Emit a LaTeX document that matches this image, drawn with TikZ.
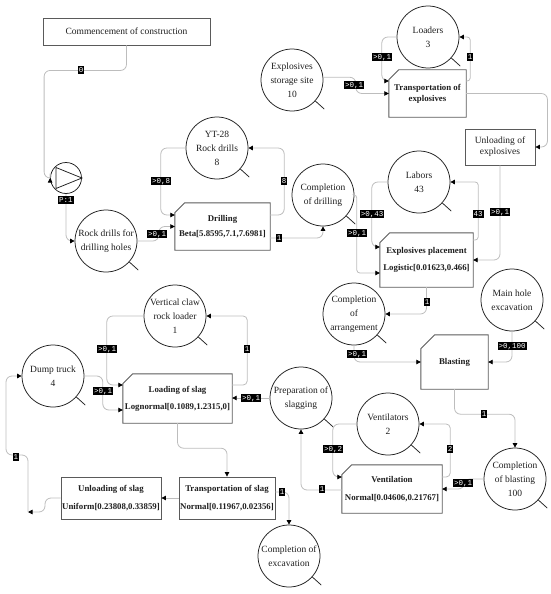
\documentclass[tikz,border=0pt]{standalone}
\usepackage{fontspec}
\setmainfont{Liberation Serif}
\setmonofont{Liberation Mono}
\usetikzlibrary{arrows.meta}
\definecolor{linegray}{HTML}{BDBDBD}
\definecolor{boxgray}{HTML}{5A5A5A}
\definecolor{inkgray}{HTML}{1E1E1E}
\newcommand\combioutline[2][10pt]{\draw[combiline] ([xshift=#1]#2.north west) -- (#2.north east) -- (#2.south east) -- (#2.south west) -- ([yshift=-#1]#2.north west) -- cycle;}
\tikzset{
  queue/.style={circle, draw=inkgray, line width=0.75pt, minimum size=62pt, inner sep=0pt, align=center, text=inkgray, font=\fontsize{9.5}{14}\selectfont},
  plainbox/.style={rectangle, draw=boxgray, line width=0.9pt, align=center, inner sep=0pt, text=inkgray, font=\fontsize{9.5}{11}\selectfont},
  boldtext/.style={font=\bfseries\fontsize{8.8}{11}\selectfont},
  combi/.style={rectangle, inner sep=0pt, align=center, text=inkgray, boldtext},
  conn/.style={draw=linegray, line width=0.8pt, rounded corners=6pt, -{Triangle[length=4.5pt,width=4.5pt,color=black]}},
  lab/.style={fill=black, text=white, font=\ttfamily\fontsize{7.5}{8}\selectfont, inner sep=1pt, text height=5.5pt, text depth=1.2pt},
  handle/.style={draw=inkgray, line width=0.75pt},
  combiline/.style={draw=boxgray, line width=0.9pt}
}
\begin{document}
\begin{tikzpicture}[x=1pt,y=1pt]
\useasboundingbox (0,0) rectangle (550,-594);
% nodes
\node[plainbox, minimum width=167pt, minimum height=27pt] (commence) at (126.5,-31.5) {Commencement of construction};
\node[circle, draw=inkgray, line width=0.75pt, minimum size=31pt, inner sep=0pt] (pump) at (66,-178) {};
\draw[handle] ([shift={(-10,10.5)}]pump.center) -- (pump.east) -- ([shift={(-10,-10.5)}]pump.center) -- cycle;
\node[queue] (rockholes) at (106,-241) {Rock drills for\\drilling holes};
\node[queue] (yt28) at (217,-148) {YT-28\\Rock drills\\8};
\node[combi, minimum width=95pt, minimum height=47pt] (drilling) at (222.5,-226.5) {Drilling\\[4pt]Beta[5.8595,7.1,7.6981]};
\node[queue] (compdrill) at (323,-195) {Completion\\of drilling};
\node[queue] (explstore) at (292,-80) {Explosives\\storage site\\10};
\node[queue] (loaders) at (428,-37) {Loaders\\3};
\node[combi, minimum width=77pt, minimum height=47pt] (transexpl) at (427.5,-93.5) {Transportation of\\explosives};
\node[plainbox, minimum width=70pt, minimum height=36pt] (unloadexpl) at (500,-147) {Unloading of\\explosives};
\node[queue] (labors) at (419,-182) {Labors\\43};
\node[combi, minimum width=93pt, minimum height=54pt] (explplace) at (426.5,-260) {Explosives placement\\[6pt]Logistic[0.01623,0.466]};
\node[queue] (comparr) at (354,-314) {Completion\\of\\arrangement};
\node[queue] (mainhole) at (512,-300) {Main hole\\excavation};
\node[combi, minimum width=67pt, minimum height=54pt] (blasting) at (454.5,-362) {Blasting};
\node[queue] (compblast) at (515,-479) {Completion\\of blasting\\100};
\node[queue] (ventilators) at (388,-424) {Ventilators\\2};
\node[combi, minimum width=100pt, minimum height=48pt] (ventilation) at (392,-489) {Ventilation\\[7pt]Normal[0.04606,0.21767]};
\node[queue] (prepslag) at (301,-398) {Preparation of\\slagging};
\node[combi, minimum width=109pt, minimum height=49pt] (loading) at (177.5,-398.5) {Loading of slag\\[6pt]Lognormal[0.1089,1.2315,0]};
\node[queue] (vclaw) at (175,-316) {Vertical claw\\rock loader\\1};
\node[queue] (dump) at (53,-376) {Dump truck\\4};
\node[plainbox, boldtext, minimum width=96pt, minimum height=42pt] (transslag) at (227,-498) {Transportation of slag\\[7pt]Normal[0.11967,0.02356]};
\node[plainbox, boldtext, minimum width=100pt, minimum height=42pt] (unloadslag) at (111,-498) {Unloading of slag\\[7pt]Uniform[0.23808,0.33859]};
\node[queue] (compexc) at (289,-556) {Completion of\\excavation};
\coordinate (J) at (28,-512);
% combi outlines
\combioutline{drilling}
\combioutline{transexpl}
\combioutline{explplace}
\combioutline[14pt]{blasting}
\combioutline{ventilation}
\combioutline{loading}
% queue handles
\foreach \n in {rockholes,yt28,compdrill,explstore,loaders,labors,comparr,mainhole,compblast,ventilators,prepslag,vclaw,dump,compexc}
  \draw[handle] (\n.-42) -- ++(-42:12);
% connectors
\draw[conn] (commence.south) -- ++(0,-25) -| ([xshift=-6pt]pump.west) -- (pump.west);
\draw[conn] (pump.south) |- (rockholes.west);
\draw[conn] (rockholes.east) -| ([xshift=-16pt]drilling.west) -- (drilling.west);
\draw[conn] (yt28.west) -| ([xshift=-14pt,yshift=11.5pt]drilling.west) -- ([yshift=11.5pt]drilling.west);
\draw[conn] ([yshift=11.5pt]drilling.east) -- ++(14,0) |- (yt28.east);
\draw[conn] ([yshift=-11.5pt]drilling.east) -| (compdrill.south);
\draw[conn, rounded corners=3pt] (compdrill.east) -| ([xshift=-23pt,yshift=-13pt]explplace.west) -- ([yshift=-13pt]explplace.west);
\draw[conn] (labors.west) -| ([xshift=-8pt,yshift=13pt]explplace.west) -- ([yshift=13pt]explplace.west);
\draw[conn, rounded corners=3pt] ([yshift=20pt]explplace.east) -- ++(5,0) |- (labors.east);
\draw[conn] (unloadexpl.south) |- (explplace.east);
\draw[conn] (explstore.5) -| ([xshift=-33pt]transexpl.west) -- (transexpl.west);
\draw[conn] (loaders.west) -| ([xshift=-7pt,yshift=12.5pt]transexpl.west) -- ([yshift=12.5pt]transexpl.west);
\draw[conn, rounded corners=3pt] ([yshift=12.5pt]transexpl.east) -- ++(4,0) |- (loaders.east);
\draw[conn] (transexpl.east) -| ([xshift=12pt]unloadexpl.east) -- (unloadexpl.east);
\draw[conn] (explplace.south) |- (comparr.east);
\draw[conn] (comparr.south) |- (blasting.west);
\draw[conn] (mainhole.south) |- (blasting.east);
\draw[conn] (blasting.south) -- ++(0,-25) -| (compblast.north);
\draw[conn] (compblast.west) -| ([xshift=22pt]ventilation.east) -- (ventilation.east);
\draw[conn] (ventilators.west) -| ([xshift=-9pt,yshift=12pt]ventilation.west) -- ([yshift=12pt]ventilation.west);
\draw[conn, rounded corners=4pt] ([yshift=12pt]ventilation.east) -- ++(8,0) |- (ventilators.east);
\draw[conn] ([yshift=-1pt]ventilation.west) -| (prepslag.south);
\draw[conn] (prepslag.west) -- (prepslag.west -| loading.east);
\draw[conn] (vclaw.west) -| ([xshift=-16pt,yshift=13.5pt]loading.west) -- ([yshift=13.5pt]loading.west);
\draw[conn, rounded corners=4pt] ([yshift=13.5pt]loading.east) -- ++(15,0) |- (vclaw.east);
\draw[conn] (dump.east) -| ([xshift=-20pt,yshift=-11.5pt]loading.west) -- ([yshift=-11.5pt]loading.west);
\draw[conn] (loading.south) -- ++(0,-25) -| (transslag.north);
\draw[conn] (transslag.west) -- (unloadslag.east);
\draw[conn] (unloadslag.west) -| ([xshift=17pt]J) -- (J);
\draw[conn] (J) -- ++(0,57) -- ++(-22,0) |- (dump.west);
\draw[conn] ([yshift=6pt]transslag.east) -| (compexc.north);
% labels
\node[lab] (l1) at (81,-70) {0};
\node[lab] (l2) at (66,-200) {P:1};
\node[lab] (l3) at (157,-234) {>0,1};
\node[lab] (l4) at (161,-181) {>0,8};
\node[lab] (l5) at (284,-181) {8};
\node[lab] (l6) at (279,-238) {1};
\node[lab] (l7) at (357,-233) {>0,1};
\node[lab] (l8) at (354,-85) {>0,1};
\node[lab] (l9) at (382,-57) {>0,1};
\node[lab] (l10) at (470,-57) {1};
\node[lab] (l11) at (372,-214) {>0,43};
\node[lab] (l12) at (478,-214) {43};
\node[lab] (l13) at (500,-212) {>0,1};
\node[lab] (l14) at (427,-302) {1};
\node[lab] (l15) at (357,-354) {>0,1};
\node[lab] (l16) at (512,-346) {>0,100};
\node[lab] (l17) at (484,-414) {1};
\node[lab] (l18) at (463,-483) {>0,1};
\node[lab] (l19) at (333,-449) {>0,2};
\node[lab] (l20) at (450,-449) {2};
\node[lab] (l21) at (322,-489) {1};
\node[lab] (l22) at (251,-398) {>0,1};
\node[lab] (l23) at (107,-349) {>0,1};
\node[lab] (l24) at (247,-349) {1};
\node[lab] (l25) at (103,-391) {>0,1};
\node[lab] (l26) at (16,-457) {1};
\node[lab] (l27) at (282,-492) {1};
\end{tikzpicture}
\end{document}
